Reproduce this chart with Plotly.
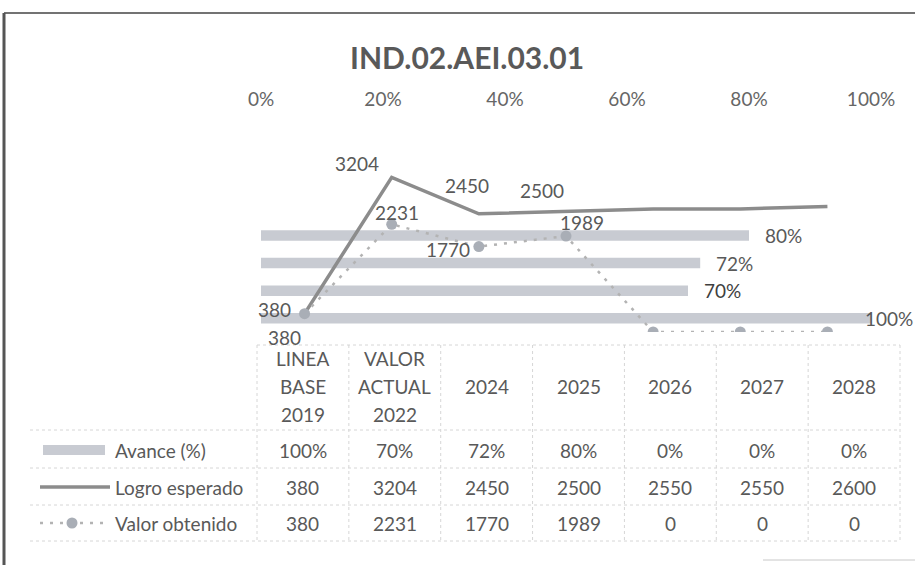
import plotly.graph_objects as go

# ---------------- data ----------------
title = "IND.02.AEI.03.01"
categories = ["LINEA\nBASE\n2019", "VALOR\nACTUAL\n2022", "2024", "2025", "2026", "2027", "2028"]
series_names = ["Avance (%)", "Logro esperado", "Valor obtenido"]
avance = [1.00, 0.70, 0.72, 0.80, 0.0, 0.0, 0.0]
logro = [380, 3204, 2450, 2500, 2550, 2550, 2600]
valor = [380, 2231, 1770, 1989, 0, 0, 0]
pct_ticks = [0, 0.2, 0.4, 0.6, 0.8, 1.0]

# ---------------- styles ----------------
FONT = "Lato"
TXT = "#595959"
BAR = "#c8cbd2"
LOGRO_C = "#8c8c8c"
VALOR_LINE = "#b3b3b3"
VALOR_MK = "#a9aeb6"
GRID = "#d6d6d6"

W, H = 915, 565
L, R, T, B = 261, 871, 139, 332  # plot area in pixels


def PX(x):
    return (x - L) / (R - L)


def PY(y):
    return (B - y) / (B - T)


idx = list(range(len(categories)))

fig = go.Figure()
fig.add_trace(go.Bar(
    x=avance, y=idx, orientation="h", width=0.38,
    marker=dict(color=BAR, line=dict(width=0)),
    xaxis="x", yaxis="y", hoverinfo="skip", showlegend=False))
fig.add_trace(go.Scatter(
    x=idx, y=logro, mode="lines",
    line=dict(color=LOGRO_C, width=3.5),
    xaxis="x2", yaxis="y2", hoverinfo="skip", showlegend=False))
fig.add_trace(go.Scatter(
    x=idx, y=valor, mode="lines+markers",
    line=dict(color=VALOR_LINE, width=2.5, dash="3px,7px"),
    marker=dict(size=11, color=VALOR_MK),
    xaxis="x2", yaxis="y2", hoverinfo="skip", showlegend=False))

ann = []


def txt(text, x, y, xanchor="center", size=19, color=TXT, **kw):
    ann.append(dict(text=text, xref="paper", yref="paper", x=PX(x), y=PY(y),
                    xanchor=xanchor, yanchor="middle", showarrow=False,
                    font=dict(family=FONT, size=size, color=color), **kw))


# title
txt("<b>" + title + "</b>", 467, 57, size=30)

# bar labels (non-zero only)
bar_label_gap = [-8, 14, 14, 14, 14, 14, 14]
for i, v in enumerate(avance):
    if v > 0:
        ann.append(dict(text=f"{v:.0%}", xref="x", yref="y", x=v, y=i,
                        xanchor="left", yanchor="middle", xshift=bar_label_gap[i],
                        showarrow=False,
                        font=dict(family=FONT, size=19,
                                  color="#3f3f3f" if i == 1 else TXT)))

# line labels (shown for first four points)
logro_off = [(-30, -4), (-35, -14), (-12, -28), (-24, -21)]
valor_off = [(-20, 24), (5, -12), (-31, 3), (16, -14)]
for i, (dx, dy) in enumerate(logro_off):
    ann.append(dict(text=str(logro[i]), xref="x2", yref="y2", x=i, y=logro[i],
                    xanchor="center", yanchor="middle",
                    xshift=dx, yshift=-dy, showarrow=False,
                    font=dict(family=FONT, size=19, color=TXT)))
for i, (dx, dy) in enumerate(valor_off):
    ann.append(dict(text=str(valor[i]), xref="x2", yref="y2", x=i, y=valor[i],
                    xanchor="center", yanchor="middle",
                    xshift=dx, yshift=-dy, showarrow=False,
                    font=dict(family=FONT, size=19, color=TXT)))

# ---------------- data table ----------------
tbl_left, tbl_right = 257, 900
ncol = len(categories)
colw = (tbl_right - tbl_left) / ncol
col_c = [tbl_left + colw * (i + 0.5) for i in range(ncol)]
hdr_c = 386
line_sp = 28
row_c = [450, 487, 523]
hlines = [430, 468, 505, 541]

shapes = []


def seg(x0, y0, x1, y1, **line):
    shapes.append(dict(type="line", xref="paper", yref="paper",
                       x0=PX(x0), x1=PX(x1), y0=PY(y0), y1=PY(y1), line=line))


# frame
seg(4, 13, 915, 13, color="#737373", width=2)
seg(4, 13, 4, 566, color="#555555", width=3)
seg(763, 560, 915, 560, color="#c8c8c8", width=1)
# grid
seg(tbl_left, 345, tbl_right, 345, color=GRID, width=1, dash="dot")
for yy in hlines:
    seg(30, yy, tbl_right, yy, color=GRID, width=1, dash="dot")
for k in range(ncol + 1):
    xx = tbl_left + colw * k
    seg(xx, 345, xx, 541, color=GRID, width=1, dash="dot")

# header
for i, cat in enumerate(categories):
    parts = cat.split("\n")
    n = len(parts)
    for j, p in enumerate(parts):
        txt(p, col_c[i], hdr_c + (j - (n - 1) / 2) * line_sp)

rows = [[f"{v:.0%}" for v in avance], [str(v) for v in logro], [str(v) for v in valor]]
for r, vals in enumerate(rows):
    for i, s in enumerate(vals):
        txt(s, col_c[i], row_c[r])
    txt(series_names[r], 113, row_c[r], xanchor="left")

# legend keys
shapes.append(dict(type="rect", xref="paper", yref="paper", x0=PX(43), x1=PX(105),
                   y0=PY(row_c[0] - 5), y1=PY(row_c[0] + 5), fillcolor=BAR, line=dict(width=0)))
seg(40, row_c[1], 110, row_c[1], color=LOGRO_C, width=3.5)
seg(40, row_c[2], 110, row_c[2], color=VALOR_LINE, width=2.5, dash="3px,7px")
shapes.append(dict(type="circle", xref="paper", yref="paper", x0=PX(66.5), x1=PX(77.5),
                   y0=PY(row_c[2] - 5.5), y1=PY(row_c[2] + 5.5),
                   fillcolor=VALOR_MK, line=dict(width=0)))

fig.update_layout(
    width=W, height=H, autosize=False,
    margin=dict(l=L, r=W - R, t=T, b=H - B, pad=0),
    paper_bgcolor="white", plot_bgcolor="white",
    font=dict(family=FONT, color=TXT),
    showlegend=False,
    xaxis=dict(range=[0, 1], side="top", tickvals=pct_ticks, tickformat=".0%",
               showgrid=False, zeroline=False, showline=False,
               ticks="outside", ticklen=24, tickcolor="rgba(0,0,0,0)",
               tickfont=dict(family=FONT, size=19, color="#666666"), fixedrange=True),
    yaxis=dict(range=[-0.5, len(categories) - 0.5], visible=False, fixedrange=True),
    xaxis2=dict(range=[-0.5, len(categories) - 0.5], overlaying="x", visible=False),
    yaxis2=dict(range=[0, 4000], overlaying="y", visible=False),
    annotations=ann, shapes=shapes,
)

fig.write_html("out.html", config={"displayModeBar": False},
               post_script="document.body.style.margin='0';")
